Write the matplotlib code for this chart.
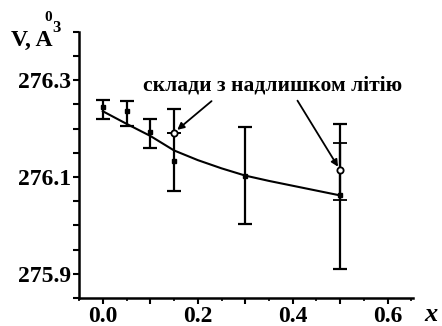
import numpy as np
import matplotlib
matplotlib.use('Agg')
import matplotlib.pyplot as plt
from matplotlib.ticker import MultipleLocator, FuncFormatter

# filled points (measured samples)
x_pts = [0.0, 0.05, 0.1, 0.15, 0.3, 0.5]
y_pts = [276.244, 276.236, 276.193, 276.134, 276.103, 276.062]
err_top = [276.259, 276.257, 276.219, 276.241, 276.203, 276.209]
err_bot = [276.221, 276.205, 276.160, 276.072, 276.002, 275.910]

# open points (lithium excess compositions)
x_open = [0.15, 0.5]
y_open = [276.192, 276.114]
open_top = [276.192, 276.170]
open_bot = [276.192, 276.053]

# fitted curve
x_fit = [0.0, 0.05, 0.1, 0.15, 0.2, 0.25, 0.3, 0.35, 0.4, 0.45, 0.5]
y_fit = [276.236, 276.21, 276.185, 276.155, 276.135, 276.118, 276.103,
         276.092, 276.082, 276.072, 276.062]

label_txt = 'склади з надлишком літію'
serif = ['Liberation Serif', 'DejaVu Serif']
plt.rcParams['font.family'] = serif
plt.rcParams['font.weight'] = 'bold'

fig = plt.figure(figsize=(4.42, 3.26), dpi=100)
ax = fig.add_axes([0.179, 0.086, 0.755, 0.816])

ax.plot(x_fit, y_fit, color='black', lw=1.5, zorder=2)

yerr = [np.array(y_pts) - np.array(err_bot), np.array(err_top) - np.array(y_pts)]
ax.errorbar(x_pts, y_pts, yerr=yerr, fmt='s', color='black', ms=3.5,
            elinewidth=1.6, capsize=5, capthick=1.6, zorder=3)
oerr = [np.array(y_open) - np.array(open_bot), np.array(open_top) - np.array(y_open)]
ax.errorbar(x_open, y_open, yerr=oerr, fmt='o', color='black', mfc='white',
            ms=4.5, mew=1.3, elinewidth=1.6, capsize=5, capthick=1.6, zorder=3)

ax.text(0.084, 276.29, label_txt, fontsize=15.5, fontweight='bold',
        ha='left', va='center')
ax.annotate('', xy=(x_open[0], y_open[0]), xytext=(0.229, 276.257),
            arrowprops=dict(arrowstyle='-|>', color='black', lw=1.3,
                            shrinkA=0, shrinkB=3, mutation_scale=10))
ax.annotate('', xy=(x_open[1], y_open[1]), xytext=(0.41, 276.258),
            arrowprops=dict(arrowstyle='-|>', color='black', lw=1.3,
                            shrinkA=0, shrinkB=3, mutation_scale=10))

ax.set_xlim(-0.05, 0.653)
ax.set_ylim(275.85, 276.4)

ax.xaxis.set_major_locator(MultipleLocator(0.1))
ax.xaxis.set_minor_locator(MultipleLocator(0.05))
ax.xaxis.set_major_formatter(FuncFormatter(
    lambda v, p: ('%.1f' % v) if abs(round(v * 10) % 2) < 1e-6 else ''))
ax.yaxis.set_major_locator(MultipleLocator(0.05))
ax.yaxis.set_major_formatter(FuncFormatter(
    lambda v, p: ('%.1f' % v) if abs(round((v - 275.9) * 20) % 4) < 1e-6 else ''))

ax.tick_params(which='major', direction='out', length=4, width=1.5,
               labelsize=17, pad=2)
ax.tick_params(which='minor', direction='out', length=2, width=1.2)
ax.yaxis.set_minor_locator(MultipleLocator(0.05))
for lab in ax.get_xticklabels() + ax.get_yticklabels():
    lab.set_fontweight('bold')

ax.spines['top'].set_visible(False)
ax.spines['right'].set_visible(False)
ax.spines['left'].set_linewidth(1.8)
ax.spines['bottom'].set_linewidth(1.8)

fig.text(0.025, 0.877, 'V, A', fontsize=17, fontweight='bold', ha='left', va='center')
fig.text(0.100, 0.945, '0', fontsize=11, fontweight='bold', ha='left', va='center')
fig.text(0.118, 0.915, '3', fontsize=12, fontweight='bold', ha='left', va='center')
fig.text(0.975, 0.035, 'x', fontsize=19, fontweight='bold', style='italic',
         ha='center', va='center')

fig.savefig('out.png', dpi=100)
